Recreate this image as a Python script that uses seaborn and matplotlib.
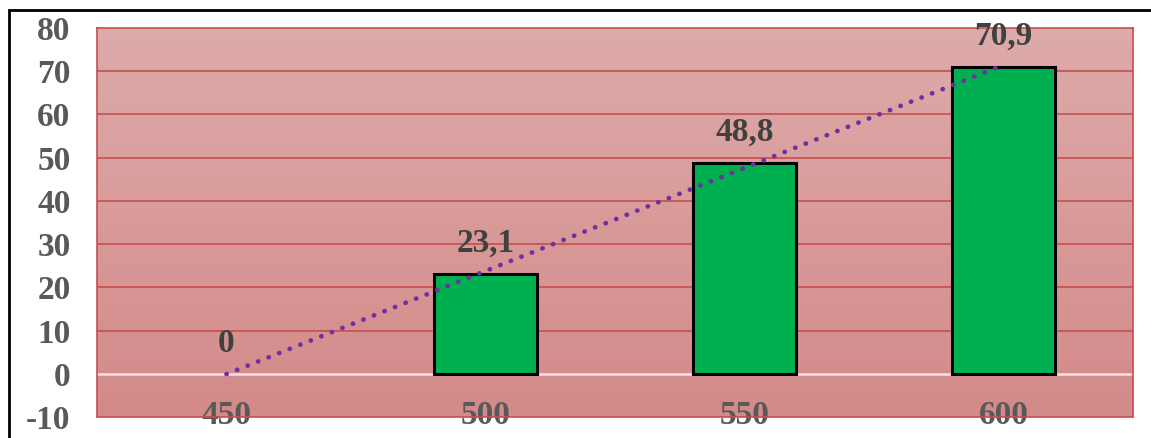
import numpy as np
import pandas as pd
import seaborn as sns
import matplotlib.pyplot as plt
from matplotlib.colors import LinearSegmentedColormap
from matplotlib.patches import Rectangle

# data
categories = ["450", "500", "550", "600"]
values = [0, 23.1, 48.8, 70.9]
value_labels = ["0", "23,1", "48,8", "70,9"]
y_ticks = [-10, 0, 10, 20, 30, 40, 50, 60, 70, 80]

sns.set_style("white")
plt.rcParams['font.family'] = ['Liberation Serif', 'DejaVu Serif']
plt.rcParams['font.weight'] = 'bold'
plt.rcParams['axes.unicode_minus'] = False

df = pd.DataFrame({"x": categories, "y": values})

fig = plt.figure(figsize=(11.51, 4.38), dpi=100)
ax = fig.add_axes([97 / 1151, 1 - 417 / 438, 1036 / 1151, 389 / 438])

# pink gradient background
cmap = LinearSegmentedColormap.from_list("bg", ["#d38a89", "#ddabaa"])
grad = np.linspace(0, 1, 256).reshape(-1, 1)
ax.imshow(grad, cmap=cmap, aspect="auto", origin="lower",
          extent=[-0.5, 3.5, -10, 80], zorder=0)

# grid lines
for t in y_ticks[2:-1]:
    ax.axhline(t, color="#c64f4e", lw=1.2, zorder=1)
ax.axhline(0, color="#f2e4e4", lw=1.8, zorder=1)

sns.barplot(data=df, x="x", y="y", order=categories, color="#00b050",
            width=0.4, edgecolor="black", linewidth=2.2, saturation=1,
            ax=ax, zorder=2)
# no outline for the empty bar
for p, v in zip(ax.patches, values):
    if v == 0:
        p.set_linewidth(0)

# linear trend line
pos = np.arange(len(categories))
sns.regplot(x=pos, y=values, scatter=False, ci=None, truncate=True, ax=ax,
            line_kws=dict(color="#7030a0", lw=3.4, linestyle=(0, (0.05, 2.35)),
                          dash_capstyle="round", zorder=3))

for i, (v, lab) in enumerate(zip(values, value_labels)):
    ax.annotate(lab, (i, v), xytext=(0, 11), textcoords="offset points",
                ha="center", va="bottom", fontsize=24, fontweight="bold",
                color="#404040", zorder=4)

ax.set_xlim(-0.5, 3.5)
ax.set_ylim(-10, 80)
ax.set_yticks(y_ticks)
ax.set_xticks(pos)
ax.set_xticklabels(categories)
ax.set_xlabel("")
ax.set_ylabel("")
ax.tick_params(axis="y", length=0, pad=19, labelsize=24, labelcolor="#595959")
ax.tick_params(axis="x", length=0, pad=-12, labelsize=24, labelcolor="#595959")
for lab in ax.get_xticklabels() + ax.get_yticklabels():
    lab.set_fontweight("bold")
for s in ax.spines.values():
    s.set_color("#c64f4e")
    s.set_linewidth(1.2)

# outer black frame
fig.patches.append(Rectangle((9 / 1151, -0.1), 1.2, 1 - 10 / 438 + 0.1,
                             transform=fig.transFigure, fill=False,
                             edgecolor="black", lw=2))

fig.savefig("out.png", dpi=100)
